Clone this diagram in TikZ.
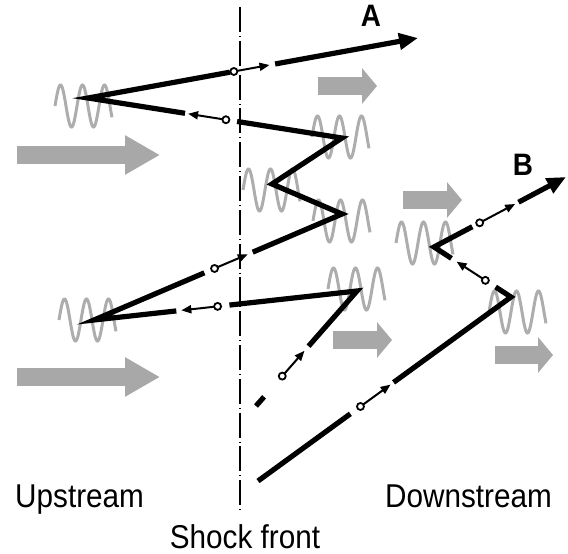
\documentclass[tikz,border=0pt]{standalone}
\usepackage{fontspec}
\setmainfont{Liberation Sans}[FakeStretch=0.9]
\usetikzlibrary{arrows.meta,calc}
\definecolor{flowgray}{HTML}{A8A8A8}
\definecolor{wavegray}{HTML}{ADADAD}

% small circle with a short arrow on the segment #1--#2
\newcommand{\hopmark}[4]{%
  \draw[kick] ($(#1)!#3!(#2)$) -- ($(#1)!#4!(#2)$);
  \draw[ring] ($(#1)!#3!(#2)$) circle[radius=3.5];
}

\begin{document}
\begin{tikzpicture}[x=1pt, y=-1pt,
    track/.style={line width=5.2pt, line join=miter},
    kick/.style={line width=2pt, -{Triangle[length=10pt,width=8pt]}},
    ring/.style={draw, fill=white, line width=1.8pt},
    endtip/.style={-{Triangle[length=19pt,width=16pt]}},
    bigflow/.style={flowgray, line width=18pt, -{Triangle[length=35pt,width=37pt]}},
    smallflow/.style={flowgray, line width=18pt, -{Triangle[length=15pt,width=35pt]}},
    wave/.style={wavegray, line width=3pt},
    front/.style={line width=2.2pt, dash pattern=on 25pt off 4pt on 0.8pt off 4pt},
    sidetext/.style={font=\fontsize{33}{36}\selectfont, inner sep=0pt},
    lettertag/.style={font=\fontsize{31}{34}\selectfont\bfseries, inner sep=0pt},
    wiggle/.pic={\draw[wave] plot[domain=0:57, samples=90, smooth] (\x, {-21*sin(16.3636*\x)});}
]
\useasboundingbox (0,0) rectangle (568,554);

% Plasma flow
\draw[bigflow] (17,155) -- (160,155);
\draw[bigflow] (17,377) -- (160,377);
\draw[smallflow] (318,86) -- (377,86);
\draw[smallflow] (403,200) -- (462,200);
\draw[smallflow] (333,340) -- (392,340);
\draw[smallflow] (495,355) -- (553,355);

% Waves at the scattering points
\pic at (55,106) {wiggle};
\pic at (312,137) {wiggle};
\pic at (243,190) {wiggle};
\pic at (313,221) {wiggle};
\pic at (328,289) {wiggle};
\pic at (59,320) {wiggle};
\pic at (396,243) {wiggle};
\pic at (489,312) {wiggle};

% Shock front
\coordinate (sftop) at (240,7);
\coordinate (sfbot) at (240,510);
\draw[front] (sftop) -- (sfbot);

% Particle A
\coordinate (s1) at (256,406);
\coordinate (v1) at (357,291);
\coordinate (v2) at (94,320);
\coordinate (v3) at (342,214);
\coordinate (v4) at (272,184);
\coordinate (v5) at (342,138);
\coordinate (v6) at (88,98);
\coordinate (ea) at (418,38);
\draw[track] (s1) -- ($(s1)!0.08!(v1)$);
\draw[track] ($(s1)!0.52!(v1)$) -- (v1) -- ($(v1)!0.485!(v2)$);
\draw[track] ($(v1)!0.687!(v2)$) -- (v2) -- ($(v2)!0.445!(v3)$);
\draw[track] ($(v2)!0.64!(v3)$) -- (v3) -- (v4) -- (v5) -- ($(v5)!0.413!(v6)$);
\draw[track] ($(v5)!0.618!(v6)$) -- (v6) -- ($(v6)!0.43!(ea)$);
\draw[track, endtip] ($(v6)!0.567!(ea)$) -- (ea);
\hopmark{s1}{v1}{0.26}{0.48}
\hopmark{v1}{v2}{0.53}{0.668}
\hopmark{v2}{v3}{0.486}{0.62}
\hopmark{v5}{v6}{0.457}{0.606}
\hopmark{v6}{ea}{0.442}{0.55}

% Particle B
\coordinate (sb) at (258,481);
\coordinate (w1) at (511,297);
\coordinate (w2) at (434,247);
\coordinate (eb) at (566,177);
\draw[track] (sb) -- ($(sb)!0.365!(w1)$);
\draw[track] ($(sb)!0.536!(w1)$) -- (w1) -- ($(w1)!0.2!(w2)$);
\draw[track] ($(w1)!0.773!(w2)$) -- (w2) -- ($(w2)!0.29!(eb)$);
\draw[track, endtip] ($(w2)!0.64!(eb)$) -- (eb);
\hopmark{sb}{w1}{0.405}{0.524}
\hopmark{w1}{w2}{0.333}{0.707}
\hopmark{w2}{eb}{0.346}{0.615}

% Labels
\node[lettertag, anchor=base] (labA) at (371,27) {A};
\node[lettertag, anchor=base] (labB) at (523,175) {B};
\node[sidetext, anchor=base west] (up) at (15,507) {Upstream};
\node[sidetext, anchor=base east] (down) at (552,507) {Downstream};
\node[sidetext, anchor=base] (shock) at (245,548) {Shock front};

\end{tikzpicture}
\end{document}
